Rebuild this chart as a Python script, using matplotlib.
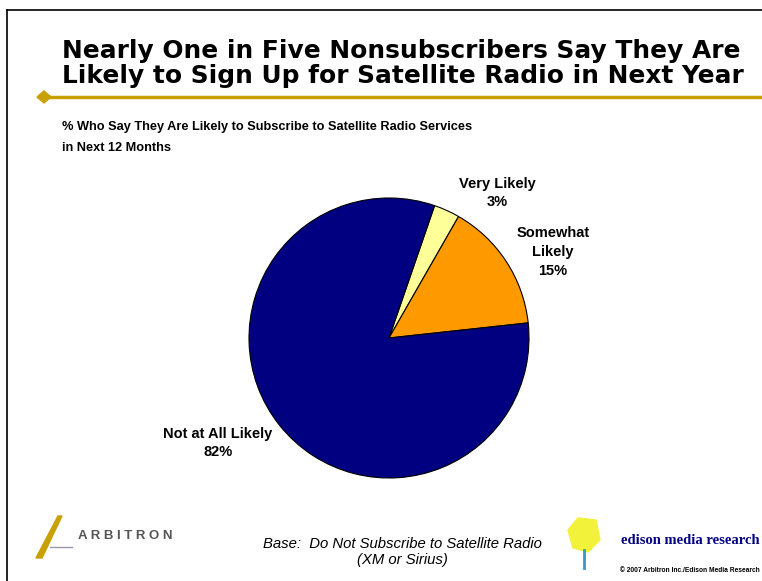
import matplotlib
matplotlib.use('Agg')
import matplotlib.pyplot as plt
from matplotlib.patches import Polygon

plt.rcParams['font.family'] = ['Liberation Sans', 'DejaVu Sans']

# данные
categories = ['Very Likely', 'Somewhat Likely', 'Not at All Likely']
values = [3, 15, 82]
colors = ['#FFFF99', '#FF9900', '#000080']
label_text = ['Very Likely\n3%', 'Somewhat\nLikely\n15%', 'Not at All Likely\n82%']

W, H = 762, 581
fig = plt.figure(figsize=(W / 100, H / 100), dpi=100)
ax = fig.add_axes([0, 0, 1, 1])
ax.set_xlim(0, W)
ax.set_ylim(0, H)
ax.axis('off')

def Y(y):
    # пиксели сверху -> координаты снизу
    return H - y

# рамка слайда
ax.plot([7, 7], [Y(581), Y(10)], color='black', lw=1.2)
ax.plot([7, W], [Y(10), Y(10)], color='black', lw=1.2)

# заголовок
ax.text(62, Y(58), 'Nearly One in Five Nonsubscribers Say They Are', fontsize=17.9,
        fontweight='bold', family=['DejaVu Sans'], va='baseline', ha='left')
ax.text(62, Y(83), 'Likely to Sign Up for Satellite Radio in Next Year', fontsize=17.9,
        fontweight='bold', family=['DejaVu Sans'], va='baseline', ha='left')

# золотая линия с ромбом
gold = '#C8A000'
ax.plot([44, W], [Y(97), Y(97)], color=gold, lw=2.5)
ax.add_patch(Polygon([[37, Y(97)], [44, Y(91)], [51, Y(97)], [44, Y(103)]], color=gold))

# подзаголовок
ax.text(62, Y(127), '% Who Say They Are Likely to Subscribe to Satellite Radio Services',
        fontsize=9.2, fontweight='bold', va='center', ha='left')
ax.text(62, Y(148), 'in Next 12 Months', fontsize=9.2, fontweight='bold', va='center', ha='left')

# круговая диаграмма
ax.pie(values, colors=colors, startangle=71, counterclock=False,
       center=(389, Y(338)), radius=140, frame=True,
       wedgeprops=dict(edgecolor='black', linewidth=0.8))
ax.set_xlim(0, W)
ax.set_ylim(0, H)
ax.set_aspect('equal')
ax.axis('off')

label_pos = [(497, 193), (553, 252), (218, 443)]
for txt, (lx, ly) in zip(label_text, label_pos):
    ax.text(lx, Y(ly), txt, fontsize=10.5, fontweight='bold', ha='center', va='center',
            linespacing=1.45)

# подвал
ax.text(402, Y(552), 'Base:  Do Not Subscribe to Satellite Radio\n(XM or Sirius)',
        fontsize=10.7, style='italic', ha='center', va='center', linespacing=1.25)

# логотип Arbitron (упрощённо)
ax.add_patch(Polygon([[36, Y(558)], [58, Y(516)], [62, Y(516)], [42, Y(558)]], color='#C8A000'))
ax.plot([50, 72], [Y(547), Y(547)], color='#9999AA', lw=1)
ax.text(78, Y(536), 'A R B I T R O N', fontsize=9.5, fontweight='bold', color='#555555',
        ha='left', va='center')

# логотип Edison (упрощённо)
ax.add_patch(Polygon([[568, Y(530)], [578, Y(518)], [596, Y(520)], [600, Y(540)],
                      [588, Y(552)], [573, Y(548)]], color='#F2F23A'))
ax.plot([584, 584], [Y(550), Y(568)], color='#3399CC', lw=2)
ax.text(760, Y(540), 'edison media research', fontsize=10.5, fontweight='bold',
        family=['Liberation Serif'], color='#000080', ha='right', va='center')
ax.text(760, Y(571), '© 2007 Arbitron Inc./Edison Media Research', fontsize=4.8,
        fontweight='bold', ha='right', va='center')

fig.savefig('out.png', dpi=100)
